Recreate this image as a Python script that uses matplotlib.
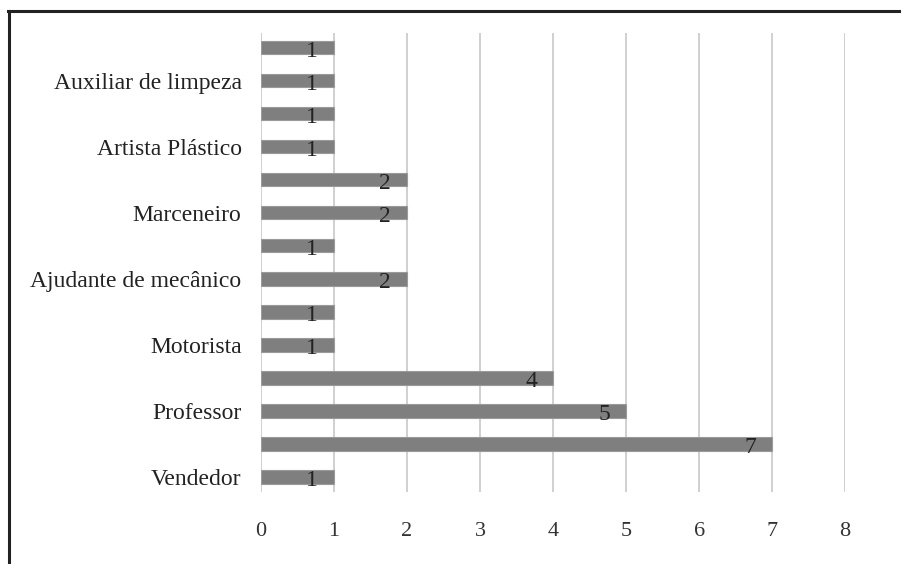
import matplotlib
matplotlib.use('Agg')
import matplotlib.pyplot as plt
from matplotlib.lines import Line2D

plt.rcParams['font.family'] = ['Liberation Serif', 'DejaVu Serif']

# ── Data (bottom to top) ────────────────────────────────────────────────
labels = ['Vendedor', '', 'Professor', '', 'Motorista', '',
          'Ajudante de mecânico', '', 'Marceneiro', '',
          'Artista Plástico', '', 'Auxiliar de limpeza', '']
values = [1, 7, 5, 4, 1, 1, 2, 1, 2, 2, 1, 1, 1, 1]
xticks = [0, 1, 2, 3, 4, 5, 6, 7, 8]

BAR_CLR = '#7f7f7f'
GRID_CLR = '#c8c8c8'

fig = plt.figure(figsize=(9.01, 5.64), dpi=100)
ax = fig.add_axes([0.2897, 0.128, 0.6483, 0.8135])

pos = list(range(len(values)))
ax.barh(pos, values, height=0.4, color=BAR_CLR, edgecolor='#9a9a9a',
        linewidth=0.8, zorder=3)

for p, v in zip(pos, values):
    ax.text(v - 0.3, p - 0.1, str(v), ha='center', va='center',
            fontsize=17, color='#222222', zorder=4)

ax.set_xlim(0, 8)
ax.set_ylim(-0.45, len(values) - 0.55)
ax.set_xticks(xticks)
ax.set_xticklabels([str(t) for t in xticks], fontsize=16, color='#333333')
ax.set_yticks(pos)
ax.set_yticklabels(labels, fontsize=17, color='#222222')
ax.tick_params(axis='y', length=0, pad=14)
ax.tick_params(axis='x', length=0, pad=22)
ax.xaxis.grid(True, color=GRID_CLR, linewidth=1.2, zorder=0)
ax.set_axisbelow(True)
for s in ax.spines.values():
    s.set_visible(False)

# outer frame (left and top only)
fig.add_artist(Line2D([0.0095, 0.0095], [0, 0.981], color='#222222',
                      linewidth=2.2, transform=fig.transFigure))
fig.add_artist(Line2D([0.0085, 1.0], [0.981, 0.981], color='#222222',
                      linewidth=2.2, transform=fig.transFigure))

fig.savefig('out.png', dpi=100, facecolor='white')
